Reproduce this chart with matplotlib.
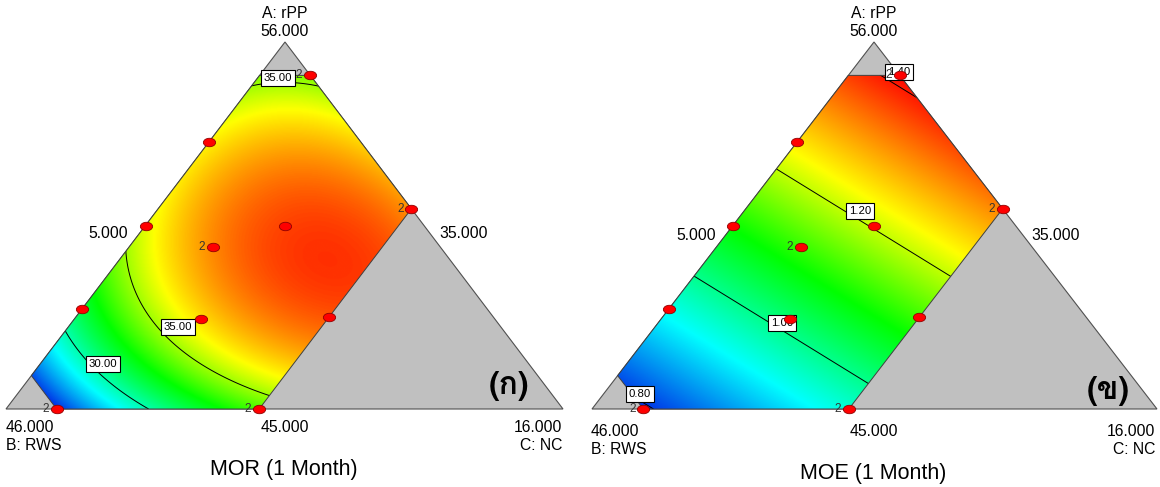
import numpy as np
import matplotlib
matplotlib.use("Agg")
import matplotlib.pyplot as plt
from matplotlib.colors import LinearSegmentedColormap
from matplotlib.patches import Polygon
from matplotlib.path import Path
from matplotlib import font_manager
from matplotlib.ft2font import FT2Font

# ---------------- data ----------------
comp_names = ["A: rPP", "B: RWS", "C: NC"]
comp_low = [45.0, 35.0, 5.0]          # lower bounds (actual units)
comp_high = [55.0, 45.0, 10.0]        # upper bounds of the design region
simplex_span = 11.0                   # vertex = low + span
vertex_labels = ["56.000", "46.000", "16.000"]
edge_labels = ["45.000", "35.000", "5.000"]   # bottom (A min), right (B min), left (C min)

# design points (actual units) and replicate counts
pt_A = [55.0, 53.0, 50.5, 48.0, 45.0, 45.0, 47.75, 51.0, 50.5, 49.85, 47.7]
pt_B = [35.0, 38.0, 40.5, 43.0, 45.0, 41.0, 38.25, 35.0, 37.75, 39.5, 40.8]
pt_C = [6.0, 5.0, 5.0, 5.0, 6.0, 10.0, 10.0, 10.0, 7.75, 6.65, 7.5]
pt_reps = [2, 1, 1, 1, 2, 2, 1, 2, 1, 2, 1]

# fitted Scheffe model (pseudo components): a, b, c, ab, ac, bc, abc
mor_coef = [32.65, 21.95, 33.3, 34.5, 21.5, 27.0, 30.0]
moe_coef = [1.437, 0.752, 1.193, 0.0, 0.0, 0.0, 0.0]
mor_levels = [30.0, 35.0]
moe_levels = [0.80, 1.00, 1.20, 1.40]
mor_color_range = [24.5, 41.0]
moe_color_range = [0.76, 1.42]
titles = ["MOR (1 Month)", "MOE (1 Month)"]
panel_tags = ["(ก)", "(ข)"]

# ---------------- fonts ----------------
def font_with(ch):
    cp = ord(ch)
    best, best_score = None, -1
    for f in font_manager.fontManager.ttflist:
        try:
            if cp not in FT2Font(f.fname).get_charmap():
                continue
        except Exception:
            continue
        score = 0
        name = f.name.lower()
        if "sans" in name or any(s in name for s in ("loma", "garuda", "tahoma", "umpush", "waree")):
            score += 2
        if "serif" in name:
            score -= 2
        if f.weight in ("bold", 700):
            score += 1
        if score > best_score:
            best, best_score = f.name, score
    return best

thai_font = font_with("ก")
thai_family = [thai_font, "DejaVu Sans"] if thai_font else ["DejaVu Sans"]
plt.rcParams["font.family"] = ["Liberation Sans", "DejaVu Sans"]

# ---------------- figure ----------------
fig = plt.figure(figsize=(11.6, 4.87), dpi=100)
ax = fig.add_axes([0, 0, 1, 1])
ax.set_xlim(0, 1160)
ax.set_ylim(487, 0)
ax.axis("off")

cmap = LinearSegmentedColormap.from_list(
    "de", [(0.0, "#0000e0"), (0.25, "#00ffff"), (0.5, "#00ff00"),
           (0.72, "#ffff00"), (1.0, "#ff0000")])

tris = [((285, 42), (6, 409), (563, 409)),
        ((874, 42), (592, 409), (1157, 409))]


def to_xy(tri, a, b, c):
    (xa, ya), (xb, yb), (xc, yc) = tri
    return a * xa + b * xb + c * xc, a * ya + b * yb + c * yc


def model(coef, a, b, c):
    return (coef[0] * a + coef[1] * b + coef[2] * c + coef[3] * a * b
            + coef[4] * a * c + coef[5] * b * c + coef[6] * a * b * c)


ua, ub, uc = [(h - l) / simplex_span for h, l in zip(comp_high, comp_low)]
region_bary = [(ua, 1 - ua, 0), (ua, 0, 1 - ua), (1 - uc, 0, uc),
               (0, 1 - uc, uc), (0, ub, 1 - ub), (1 - ub, ub, 0)]

label_pos = [
    [(278, 78), (178, 327), (103, 364)],
    [(640, 394), (782, 323), (860, 211), (899, 72)],
]
manual_pts = [
    [(280, 87), (178, 330), (100, 360)],
    [(645, 402), (782, 330), (860, 218), (905, 80)],
]
text_pos = [
    dict(top=285, left_lab=(128, 234), right_lab=(439, 234), bot_y=428, bot2_y=446,
         bl=6, br=562, title=(284, 470), tag=(509, 386)),
    dict(top=874, left_lab=(716, 236), right_lab=(1031, 236), bot_y=431, bot2_y=449,
         bl=591, br=1155, title=(873, 473), tag=(1108, 391)),
]
FS = 11.3

for k, (tri, coef, levels, crange) in enumerate(zip(
        tris, [mor_coef, moe_coef], [mor_levels, moe_levels],
        [mor_color_range, moe_color_range])):
    (xa, ya), (xb, yb), (xc, yc) = tri
    # gray full simplex
    ax.add_patch(Polygon(tri, closed=True, facecolor="#c0c0c0",
                         edgecolor="#505050", lw=0.8, zorder=1))
    # grid
    xs = np.linspace(xb, xc, 800)
    ys = np.linspace(ya, yb, 520)
    X, Y = np.meshgrid(xs, ys)
    det = (yb - yc) * (xa - xc) + (xc - xb) * (ya - yc)
    A = ((yb - yc) * (X - xc) + (xc - xb) * (Y - yc)) / det
    B = ((yc - ya) * (X - xc) + (xa - xc) * (Y - yc)) / det
    C = 1 - A - B
    Z = model(coef, A, B, C)
    reg = [to_xy(tri, *p) for p in region_bary]
    clip = Polygon(reg, closed=True, transform=ax.transData)
    im = ax.imshow(Z, extent=(xb, xc, yb, ya), origin="upper", cmap=cmap,
                   vmin=crange[0], vmax=crange[1], interpolation="bilinear",
                   zorder=2, aspect="auto")
    im.set_clip_path(clip)
    cs = ax.contour(X, Y, Z, levels=levels, colors="black", linewidths=0.7,
                    zorder=3)
    cs.set_clip_path(clip)
    ax.add_patch(Polygon(reg, closed=True, fill=False, edgecolor="#404040",
                         lw=0.7, zorder=3))
    ax.set_xlim(0, 1160)
    ax.set_ylim(487, 0)
    labs = ax.clabel(cs, levels, inline=False, fmt="%.2f", fontsize=8.2,
                     manual=manual_pts[k])
    for t, pos in zip(labs, label_pos[k]):
        t.set_rotation(0)
        t.set_position(pos)
        t.set_ha("center")
        t.set_va("center")
        t.set_zorder(4)
        t.set_clip_on(False)
        t.set_bbox(dict(facecolor="white", edgecolor="black", lw=0.8,
                        boxstyle="square,pad=0.25"))

    # design points
    pa = (np.array(pt_A) - comp_low[0]) / simplex_span
    pb = (np.array(pt_B) - comp_low[1]) / simplex_span
    pc = (np.array(pt_C) - comp_low[2]) / simplex_span
    px, py = to_xy(tri, pa, pb, pc)
    ell = Path.unit_circle()
    ell = Path(ell.vertices * np.array([1.45, 1.0]), ell.codes)
    ax.scatter(px, py, s=78, marker=ell, facecolor="#ff0000",
               edgecolor="#900000", linewidths=0.6, zorder=6)
    for x, y, r in zip(px, py, pt_reps):
        if r > 1:
            ax.annotate(str(r), (x, y), xytext=(-8, 0), textcoords="offset points",
                        ha="center", va="center", fontsize=8.5, color="#333333",
                        zorder=5)

    tp = text_pos[k]
    ax.text(tp["top"], 14, comp_names[0], ha="center", va="center", fontsize=FS)
    ax.text(tp["top"], 31, vertex_labels[0], ha="center", va="center", fontsize=FS)
    ax.text(*tp["left_lab"], edge_labels[2], ha="right", va="center", fontsize=FS)
    ax.text(*tp["right_lab"], edge_labels[1], ha="left", va="center", fontsize=FS)
    ax.text(tp["bl"], tp["bot_y"], vertex_labels[1], ha="left", va="center", fontsize=FS)
    ax.text(tp["bl"], tp["bot2_y"], comp_names[1], ha="left", va="center", fontsize=FS)
    ax.text(tp["top"], tp["bot_y"], edge_labels[0], ha="center", va="center", fontsize=FS)
    ax.text(tp["br"], tp["bot_y"], vertex_labels[2], ha="right", va="center", fontsize=FS)
    ax.text(tp["br"], tp["bot2_y"], comp_names[2], ha="right", va="center", fontsize=FS)
    ax.text(*tp["title"], titles[k], ha="center", va="center", fontsize=15.5)
    ax.text(*tp["tag"], panel_tags[k], ha="center", va="center", fontsize=23,
            fontweight="bold", family=thai_family, zorder=7)

fig.savefig("out.png", dpi=100)
